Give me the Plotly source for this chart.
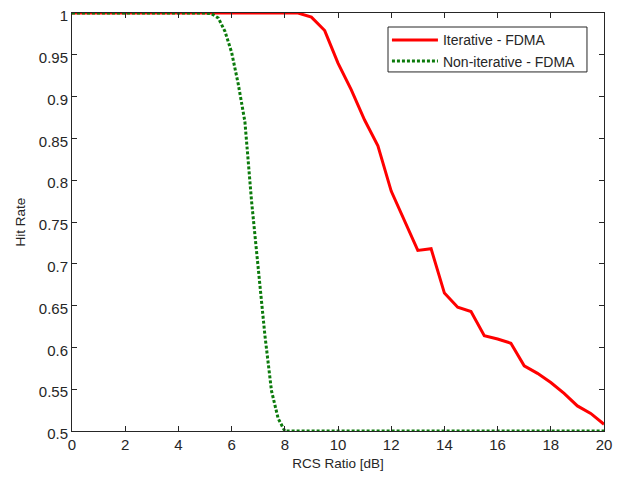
import plotly.graph_objects as go

# Iterative - FDMA (0.5 dB steps)
iter_x = [i * 0.5 for i in range(41)]
iter_y = [1, 1, 1, 1, 1, 1, 1, 1, 1, 1,
          1, 1, 1, 1, 1, 1, 1, 1,
          0.995, 0.979, 0.940, 0.908, 0.872, 0.841, 0.787, 0.751, 0.716, 0.718,
          0.665, 0.648, 0.643, 0.614, 0.610, 0.605, 0.578, 0.569, 0.558, 0.545,
          0.530, 0.521, 0.508]

# Non-iterative - FDMA (0.25 dB steps)
noniter_x = [i * 0.25 for i in range(81)]
noniter_y = [1] * 21 + [0.999, 0.994, 0.978, 0.953, 0.915, 0.870, 0.775, 0.695,
                        0.615, 0.548, 0.515, 0.500] + [0.5] * 48

x_ticks = list(range(0, 21, 2))
y_ticks = [0.5, 0.55, 0.6, 0.65, 0.7, 0.75, 0.8, 0.85, 0.9, 0.95, 1]
y_tick_text = ["0.5", "0.55", "0.6", "0.65", "0.7", "0.75", "0.8", "0.85", "0.9", "0.95", "1"]

fam = "Liberation Sans, Arial, sans-serif"
txtcol = "#262626"
axcol = "#262626"

fig = go.Figure()
fig.add_trace(go.Scatter(x=iter_x, y=iter_y, mode="lines", name="Iterative - FDMA",
                         line=dict(color="#ff0000", width=3)))
fig.add_trace(go.Scatter(x=noniter_x, y=noniter_y, mode="lines", name="Non-iterative - FDMA",
                         line=dict(color="#0b7a0b", width=3, dash="3px,2px")))

# legend frame
fig.add_shape(type="rect", xref="x domain", yref="y domain",
              x0=0.594, x1=0.968, y0=0.859, y1=0.9665,
              line=dict(color="#262626", width=1), fillcolor="white", layer="below")

fig.update_layout(
    width=605, height=465,
    margin=dict(l=64, r=9, t=5, b=42, autoexpand=False),
    paper_bgcolor="white", plot_bgcolor="white",
    font=dict(family=fam, size=15, color=txtcol),
    showlegend=True,
    legend=dict(x=0.592, y=0.973, xanchor="left", yanchor="top",
                bgcolor="rgba(0,0,0,0)", borderwidth=0,
                font=dict(family=fam, size=14, color=txtcol),
                tracegroupgap=0, itemwidth=46),
    xaxis=dict(range=[0, 20], tickvals=x_ticks, ticks="inside", ticklen=5,
               tickcolor=axcol, showline=True, linecolor=axcol, linewidth=1,
               mirror="ticks", showgrid=False, zeroline=False, automargin=False,
               tickfont=dict(size=15), ticklabeloverflow="allow",
               title=dict(text="RCS Ratio [dB]", standoff=6, font=dict(size=13.5))),
    yaxis=dict(range=[0.5, 1], tickvals=y_ticks, ticktext=y_tick_text, ticks="inside",
               ticklen=5, tickcolor=axcol, showline=True, linecolor=axcol, linewidth=1,
               mirror="ticks", showgrid=False, zeroline=False, automargin=False,
               tickfont=dict(size=15), ticklabeloverflow="allow", ticklabelshift=3,
               title=dict(text="Hit Rate", standoff=10, font=dict(size=13.5))),
)

fig.write_html("out.html")
